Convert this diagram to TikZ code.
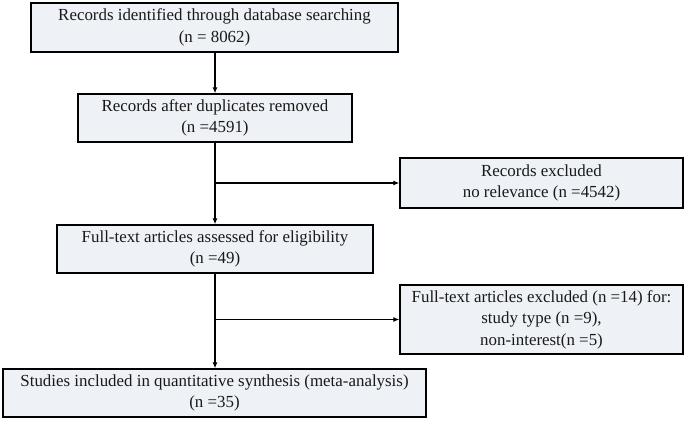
\documentclass[tikz,border=0pt]{standalone}
\usepackage{fontspec}
\setmainfont{Liberation Serif}
\usetikzlibrary{arrows.meta}
\definecolor{boxfill}{HTML}{EEF2F6}
\begin{document}
\begin{tikzpicture}[x=1pt,y=-1pt,
  box/.style={draw=black,line width=1.3pt,fill=boxfill,align=center,inner sep=0pt,
    font=\fontsize{16.9}{21.5}\selectfont,text=black!90},
  conn/.style={line width=1.3pt,-{Latex[length=6pt,width=5pt]}}]
\useasboundingbox (0,0) rectangle (687,421);
\fill[white] (0,0) rectangle (687,421);
\node[box,minimum width=367pt,minimum height=49pt] (b1) at (214.5,27.5) {Records identified through database searching\\(n = 8062)};
\node[box,minimum width=274pt,minimum height=48pt] (b2) at (215,118) {Records after duplicates removed\\(n =4591)};
\node[box,minimum width=283pt,minimum height=50pt] (b3) at (541.5,183) {Records excluded\\no relevance (n =4542)};
\node[box,minimum width=316pt,minimum height=48pt] (b4) at (215,249) {Full-text articles assessed for eligibility\\(n =49)};
\node[box,minimum width=283pt,minimum height=69pt] (b5) at (541.5,319.5) {Full-text articles excluded (n =14) for:\\study type (n =9),\\non-interest(n =5)};
\node[box,minimum width=423pt,minimum height=48pt] (b6) at (214.5,393) {Studies included in quantitative synthesis (meta-analysis)\\(n =35)};
\coordinate (j1) at (b2.south |- b3.west);
\coordinate (j2) at (b4.south |- b5.west);
\draw[conn] (b1.south -| b2.south) -- (b2.north);
\draw[conn] (b2.south) -- (b4.north);
\draw[conn] (j1) -- (b3.west);
\draw[conn] (b4.south) -- (b4.south |- b6.north);
\draw[conn] (j2) -- (b5.west);
\end{tikzpicture}
\end{document}
